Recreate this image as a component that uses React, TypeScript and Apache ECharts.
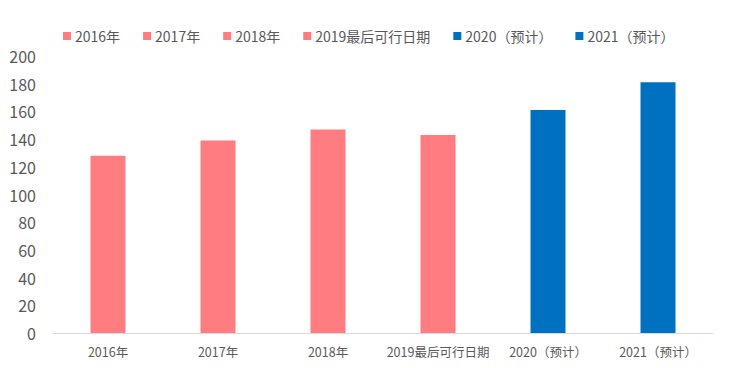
import React, { useEffect, useRef } from "react";
import * as echarts from "echarts";

const categories = ["2016年", "2017年", "2018年", "2019最后可行日期", "2020（预计）", "2021（预计）"];
const values = [128, 139, 147, 143, 161, 181];
const colors = ["#FF7C80", "#FF7C80", "#FF7C80", "#FF7C80", "#0070C0", "#0070C0"];
const yTicks = [0, 20, 40, 60, 80, 100, 120, 140, 160, 180, 200];

const FONT = "'Noto Sans CJK SC', 'Noto Sans', sans-serif";

export default function App() {
  const ref = useRef<HTMLDivElement>(null);
  useEffect(() => {
    if (!ref.current) return;
    const chart = echarts.init(ref.current, undefined, { renderer: "svg" });
    const series = categories.map((name, i) => ({
      name,
      type: "bar" as const,
      stack: "all",
      barWidth: 35,
      itemStyle: { color: colors[i] },
      data: categories.map((_, j) => (j === i ? values[i] : "-")),
    }));
    chart.setOption({
      animation: false,
      textStyle: { fontFamily: FONT },
      legend: {
        data: categories,
        left: 58,
        top: 24,
        itemWidth: 8,
        itemHeight: 8,
        itemGap: 23,
        icon: "rect",
        textStyle: { fontSize: 14, color: "#595959", fontFamily: FONT, padding: [0, 0, 0, -1] },
      },
      grid: { left: 53, right: 17, top: 56, bottom: 35, containLabel: false },
      xAxis: {
        type: "category",
        data: categories,
        axisLine: { lineStyle: { color: "#D9D9D9", width: 1 } },
        axisTick: { show: false },
        axisLabel: { fontSize: 12.5, color: "#595959", margin: 12, fontFamily: FONT, interval: 0 },
      },
      yAxis: {
        type: "value",
        min: yTicks[0],
        max: yTicks[yTicks.length - 1],
        interval: 20,
        splitLine: { show: false },
        axisLine: { show: false },
        axisTick: { show: false },
        axisLabel: { fontSize: 16, color: "#595959", margin: 17, fontFamily: FONT },
      },
      series,
    });
    return () => chart.dispose();
  }, []);
  return <div ref={ref} style={{ width: 730, height: 368, position: "absolute", left: 0, top: 0 }} />;
}
